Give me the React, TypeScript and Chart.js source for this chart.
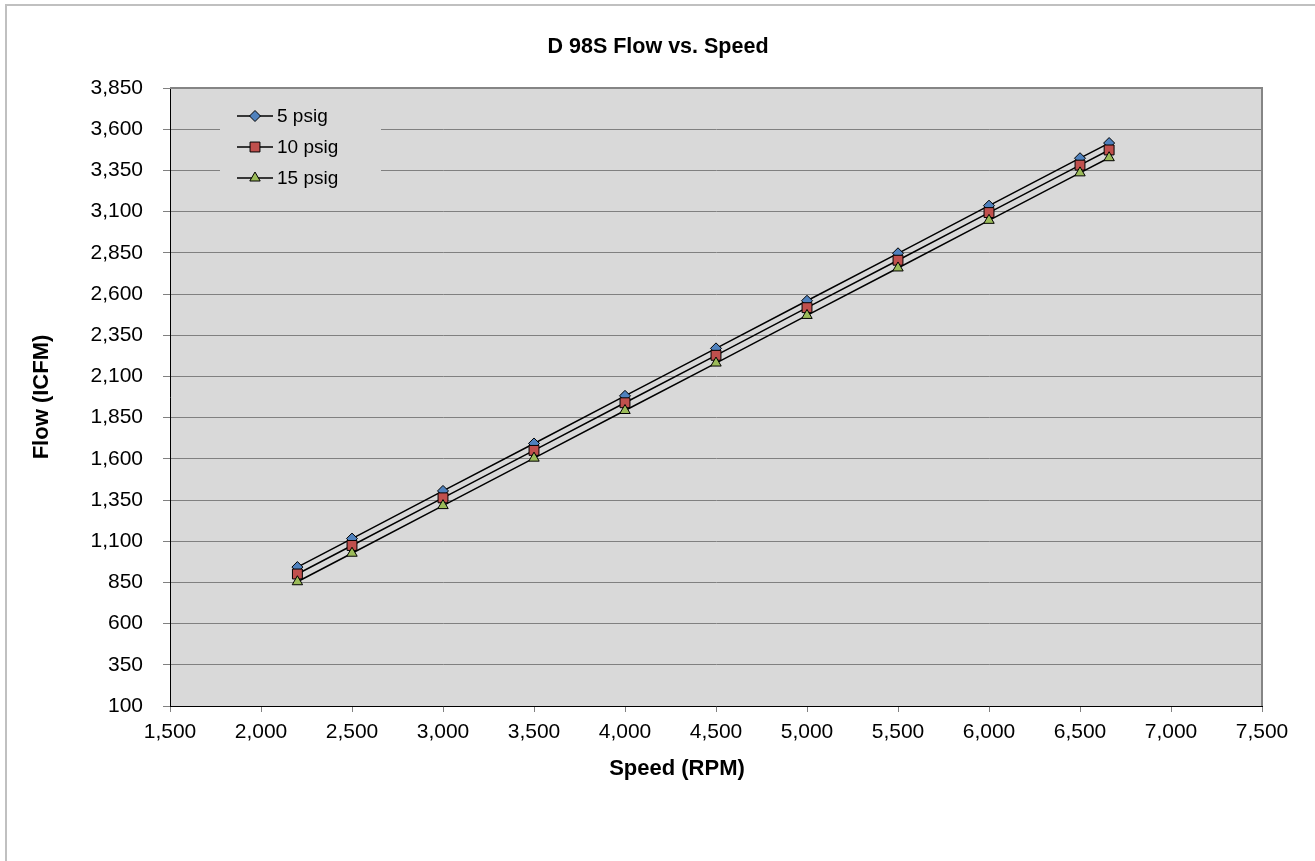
import React, { useEffect, useRef } from 'react';
import { Chart, registerables } from 'chart.js';
import { drawPoint } from 'chart.js/helpers';

Chart.register(...registerables);

const chartTitle = 'D 98S Flow vs. Speed';
const xTitle = 'Speed (RPM)';
const yTitle = 'Flow (ICFM)';

const speeds = [2200, 2500, 3000, 3500, 4000, 4500, 5000, 5500, 6000, 6500, 6660];
const flow5 = [943, 1116, 1405, 1693, 1982, 2270, 2559, 2847, 3136, 3424, 3516];
const flow10 = [901, 1074, 1363, 1651, 1940, 2228, 2517, 2805, 3094, 3382, 3474];
const flow15 = [854, 1027, 1316, 1604, 1893, 2181, 2470, 2758, 3047, 3335, 3427];

const seriesLabels = ['5 psig', '10 psig', '15 psig'];
const seriesColors = ['#4f81bd', '#c0504d', '#9bbb59'];
const seriesStyles = ['rectRot', 'rect', 'triangle'];
const seriesRadius = [5.5, 7, 6];

const xMin = 1500;
const xMax = 7500;
const xStep = 500;
const yMin = 100;
const yMax = 3850;
const yStep = 250;

const FONT = "'Liberation Sans', Arial, sans-serif";
const fmt = (v: any) => Number(v).toLocaleString('en-US');

const framePlugin = {
  id: 'frame',
  beforeDraw(chart: any) {
    const { ctx, chartArea: ca } = chart;
    ctx.save();
    ctx.fillStyle = '#d9d9d9';
    ctx.fillRect(ca.left, ca.top, ca.right - ca.left, ca.bottom - ca.top);
    ctx.restore();
  },
  beforeDatasetsDraw(chart: any) {
    const { ctx, chartArea: ca } = chart;
    ctx.save();
    ctx.strokeStyle = '#858585';
    ctx.lineWidth = 2;
    ctx.beginPath();
    ctx.moveTo(ca.left, ca.top);
    ctx.lineTo(ca.right, ca.top);
    ctx.lineTo(ca.right, ca.bottom);
    ctx.stroke();
    ctx.restore();
  },
  afterDraw(chart: any) {
    const { ctx } = chart;
    ctx.save();
    ctx.strokeStyle = '#c0c0c0';
    ctx.lineWidth = 2;
    ctx.strokeRect(6, 5, 3000, 3000);
    ctx.fillStyle = '#000';
    ctx.textAlign = 'center';
    ctx.textBaseline = 'middle';
    ctx.font = `bold 21.5px ${FONT}`;
    ctx.fillText(chartTitle, 658, 47);
    ctx.font = `bold 22px ${FONT}`;
    ctx.fillText(xTitle, 677, 769);
    ctx.restore();
  },
};

const legendPlugin = {
  id: 'insideLegend',
  afterDatasetsDraw(chart: any) {
    const { ctx, chartArea: ca } = chart;
    ctx.save();
    ctx.fillStyle = '#d9d9d9';
    ctx.fillRect(ca.left + 50, ca.top + 12, 161, 94);
    const rows = [28, 59, 90];
    seriesLabels.forEach((label, i) => {
      const y = ca.top + rows[i];
      const x0 = ca.left + 67;
      ctx.strokeStyle = '#000';
      ctx.lineWidth = 1.5;
      ctx.beginPath();
      ctx.moveTo(x0, y);
      ctx.lineTo(x0 + 36, y);
      ctx.stroke();
      ctx.fillStyle = seriesColors[i];
      ctx.strokeStyle = '#000';
      ctx.lineWidth = 1;
      drawPoint(ctx, { pointStyle: seriesStyles[i] as any, radius: seriesRadius[i], rotation: 0, borderWidth: 1 }, x0 + 18, y);
      ctx.fillStyle = '#000';
      ctx.font = `19px ${FONT}`;
      ctx.textAlign = 'left';
      ctx.textBaseline = 'middle';
      ctx.fillText(label, x0 + 40, y + 1);
    });
    ctx.restore();
  },
};

export default function App() {
  const ref = useRef<HTMLCanvasElement>(null);
  useEffect(() => {
    document.body.style.margin = '0';
    const series = [flow5, flow10, flow15];
    const chart = new Chart(ref.current as HTMLCanvasElement, {
      type: 'scatter',
      data: {
        datasets: series.map((vals, i) => ({
          label: seriesLabels[i],
          data: speeds.map((x, j) => ({ x, y: vals[j] })),
          showLine: true,
          borderColor: '#000',
          borderWidth: 1.5,
          pointStyle: seriesStyles[i] as any,
          pointRadius: seriesRadius[i],
          pointBackgroundColor: seriesColors[i],
          pointBorderColor: '#000',
          pointBorderWidth: 1,
          order: 2 - i,
        })),
      },
      options: {
        responsive: false,
        animation: false,
        layout: { padding: { left: 0, right: 53, top: 88, bottom: 55 } },
        plugins: {
          legend: { display: false },
          tooltip: { enabled: false },
          title: { display: false },
        },
        scales: {
          x: {
            type: 'linear',
            position: 'bottom',
            min: xMin,
            max: xMax,
            ticks: {
              stepSize: xStep,
              color: '#000',
              font: { family: FONT, size: 21 },
              padding: 8,
              maxRotation: 0,
              autoSkip: false,
              callback: fmt,
            },
            grid: { drawOnChartArea: false, tickLength: 6, tickColor: '#808080' },
            border: { display: true, color: '#000', width: 1 },
            title: { display: false },
            afterFit: (s: any) => {
              s.height = 100;
            },
          },
          y: {
            type: 'linear',
            min: yMin,
            max: yMax,
            ticks: {
              stepSize: yStep,
              color: '#000',
              font: { family: FONT, size: 21 },
              padding: 20,
              autoSkip: false,
              callback: fmt,
            },
            grid: { color: '#808080', lineWidth: 1, tickLength: 7, tickColor: '#808080' },
            border: { display: true, color: '#000', width: 1 },
            title: {
              display: true,
              text: yTitle,
              color: '#000',
              font: { family: FONT, size: 22, weight: 'bold' },
              padding: { top: 29, bottom: 0 },
            },
            afterFit: (s: any) => {
              s.width = 170;
            },
          },
        },
      },
      plugins: [framePlugin, legendPlugin],
    });
    return () => chart.destroy();
  }, []);
  return (
    <div style={{ width: 1315, height: 861 }}>
      <canvas ref={ref} width={1315} height={861} style={{ display: 'block' }} />
    </div>
  );
}
